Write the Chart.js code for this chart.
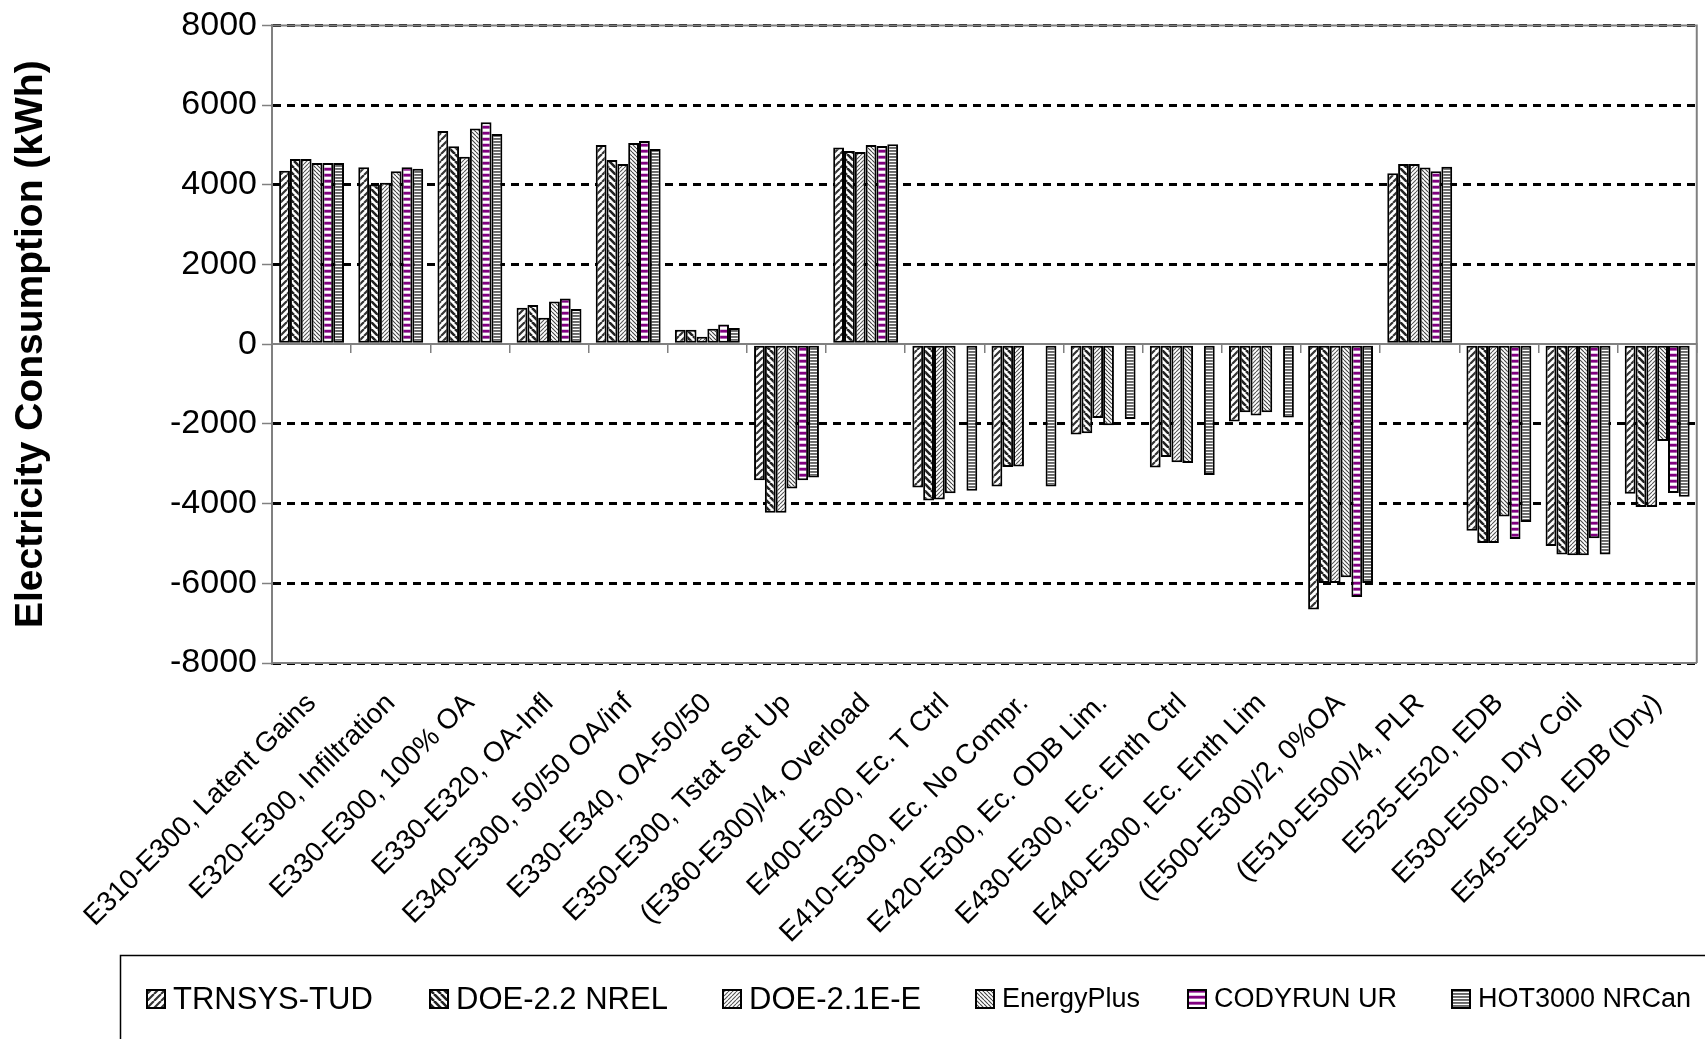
<!DOCTYPE html>
<html>
<head>
<meta charset="utf-8">
<script src="https://cdn.jsdelivr.net/npm/chart.js@4.4.0/dist/chart.umd.min.js"></script>
<style>
  html, body { margin: 0; padding: 0; background: #fff; }
</style>
</head>
<body>
<canvas id="chart" width="1705" height="1039"></canvas>
<script>
const categories = [
  'E310-E300, Latent Gains', 'E320-E300, Infiltration', 'E330-E300, 100% OA',
  'E330-E320, OA-Infl', 'E340-E300, 50/50 OA/inf', 'E330-E340, OA-50/50',
  'E350-E300, Tstat Set Up', '(E360-E300)/4, Overload', 'E400-E300, Ec. T Ctrl',
  'E410-E300, Ec. No Compr.', 'E420-E300, Ec. ODB Lim.', 'E430-E300, Ec. Enth Ctrl',
  'E440-E300, Ec. Enth Lim', '(E500-E300)/2, 0%OA', '(E510-E500)/4, PLR',
  'E525-E520, EDB', 'E530-E500, Dry Coil', 'E545-E540, EDB (Dry)'
];
const seriesNames = ['TRNSYS-TUD', 'DOE-2.2 NREL', 'DOE-2.1E-E', 'EnergyPlus', 'CODYRUN UR', 'HOT3000 NRCan'];

const trnsysTud  = [4355, 4438, 5347, 917, 5000, 364, -3412, 4934, -3594, -3569, -2269, -3097, -1938, -6657, 4292, -4682, -5062, -3751];
const doe22Nrel  = [4645, 4008, 4967, 983, 4620, 364, -4232, 4851, -3925, -3081, -2236, -2832, -1706, -5992, 4520, -4986, -5280, -4084];
const doe21e     = [4645, 4050, 4702, 661, 4520, 190, -4232, 4826, -3900, -3072, -1855, -2965, -1789, -5992, 4520, -4986, -5299, -4084];
const energyPlus = [4545, 4339, 5413, 1074, 5050, 388, -3619, 5000, -3743, null, -2037, -2981, -1706, -5850, 4435, -4321, -5299, -2431];
const codyrunUr  = [4545, 4438, 5570, 1149, 5099, 496, -3412, 4975, null, null, null, null, null, -6344, 4340, -4891, -4872, -3732];
const hot3000    = [4545, 4405, 5273, 884, 4901, 405, -3346, 5017, -3677, -3569, -1880, -3280, -1839, -5992, 4454, -4463, -5280, -3827];

const yMin = -8000, yMax = 8000, yStep = 2000;

const FONT = '"Liberation Sans", Arial, Helvetica, sans-serif';
Chart.defaults.font.family = FONT;
Chart.defaults.color = '#000';

// pattern fills, like the Excel hatches
function makePattern(draw, w, h) {
  const c = document.createElement('canvas');
  c.width = w; c.height = h;
  const g = c.getContext('2d');
  g.fillStyle = '#fff';
  g.fillRect(0, 0, w, h);
  draw(g, w, h);
  return g.createPattern(c, 'repeat');
}
function hatch(up, size, color, width) {
  return makePattern((g, w, h) => {
    g.strokeStyle = color;
    g.lineWidth = width;
    g.beginPath();
    for (let k = -1; k <= 1; k++) {
      if (up) { g.moveTo(k * w, h); g.lineTo(k * w + w, 0); }
      else { g.moveTo(k * w, 0); g.lineTo(k * w + w, h); }
    }
    g.stroke();
  }, size, size);
}
function stripes(rows) {
  return makePattern((g, w) => {
    rows.forEach((c, i) => { g.fillStyle = c; g.fillRect(0, i, w, 1); });
  }, 4, rows.length);
}

const fills = [
  hatch(true, 7, '#333', 2.2),
  hatch(false, 7, '#222', 2.6),
  hatch(true, 4, '#555', 1.1),
  hatch(false, 4, '#444', 1.1),
  stripes(['#800080', '#800080', '#b060b0', '#fff', '#fff', '#e0c0e0']),
  stripes(['#666', '#777', '#fff'])
];
const seriesData = [trnsysTud, doe22Nrel, doe21e, energyPlus, codyrunUr, hot3000];

// legend sits in a framed box under the axis labels
const legendLayout = [
  { x: 147, size: 31 }, { x: 430, size: 31 }, { x: 723, size: 31 },
  { x: 976, size: 27 }, { x: 1188, size: 27 }, { x: 1452, size: 27 }
];
const boxLegend = {
  id: 'boxLegend',
  afterDraw(chart) {
    const ctx = chart.ctx;
    ctx.save();
    ctx.strokeStyle = '#000';
    ctx.lineWidth = 1.5;
    ctx.strokeRect(120.5, 955.5, 1700, 200);
    const cy = 999;
    chart.data.datasets.forEach((ds, i) => {
      const it = legendLayout[i];
      ctx.fillStyle = ds.backgroundColor;
      ctx.fillRect(it.x, cy - 9, 18, 18);
      ctx.lineWidth = 2;
      ctx.strokeStyle = '#000';
      ctx.strokeRect(it.x, cy - 9, 18, 18);
      ctx.fillStyle = '#000';
      ctx.font = it.size + 'px ' + FONT;
      ctx.textBaseline = 'middle';
      ctx.textAlign = 'left';
      ctx.fillText(ds.label, it.x + 26, cy + 1);
    });
    ctx.restore();
  }
};

// grey frame on top and right of plot
const plotFrame = {
  id: 'plotFrame',
  beforeDatasetsDraw(chart) {
    const { ctx, chartArea: a } = chart;
    ctx.save();
    ctx.strokeStyle = '#808080';
    ctx.lineWidth = 2;
    ctx.beginPath();
    ctx.moveTo(a.left, a.top);
    ctx.lineTo(a.right, a.top);
    ctx.lineTo(a.right, a.bottom);
    ctx.stroke();
    ctx.restore();
  }
};

new Chart(document.getElementById('chart'), {
  type: 'bar',
  data: {
    labels: categories,
    datasets: seriesNames.map((name, i) => ({
      label: name,
      data: seriesData[i],
      backgroundColor: fills[i],
      borderColor: '#000',
      borderWidth: 2,
      borderSkipped: false,
      categoryPercentage: 0.82,
      barPercentage: 1.0
    }))
  },
  options: {
    responsive: false,
    animation: false,
    layout: { padding: { top: 6, right: 2, bottom: 0, left: 0 } },
    plugins: {
      legend: { display: false },
      tooltip: { enabled: false }
    },
    scales: {
      x: {
        type: 'category',
        position: 'bottom',
        grid: { display: true, drawOnChartArea: false, drawTicks: false },
        border: { display: true, color: '#808080', width: 2 },
        ticks: {
          autoSkip: false,
          minRotation: 45,
          maxRotation: 45,
          padding: 24,
          font: { size: 28 },
          color: '#000'
        },
        afterFit(scale) { scale.height = 376; }
      },
      zeroAxis: {
        type: 'category',
        axis: 'x',
        labels: categories,
        position: { y: 0 },
        offset: true,
        grid: { offset: true, drawOnChartArea: false, tickLength: 8, color: '#808080', lineWidth: 1.5 },
        border: { display: true, color: '#808080', width: 2 },
        ticks: { display: false }
      },
      y: {
        min: yMin,
        max: yMax,
        ticks: {
          stepSize: yStep,
          padding: 5,
          font: { size: 34 },
          color: '#000',
          callback: v => String(v)
        },
        grid: {
          color: ctx => ctx.tick && ctx.tick.value === 0 ? 'rgba(0,0,0,0)' : '#000',
          lineWidth: 3,
          tickLength: 10,
          tickColor: '#808080',
          tickWidth: 1.5
        },
        border: { display: true, color: '#808080', width: 2, dash: [8, 6] },
        title: {
          display: true,
          text: 'Electricity Consumption (kWh)',
          font: { size: 39, weight: 'bold' },
          color: '#000',
          padding: { top: 8, bottom: 0 }
        },
        afterFit(scale) { scale.width = 272; }
      }
    }
  },
  plugins: [plotFrame, boxLegend]
});
</script>
</body>
</html>
